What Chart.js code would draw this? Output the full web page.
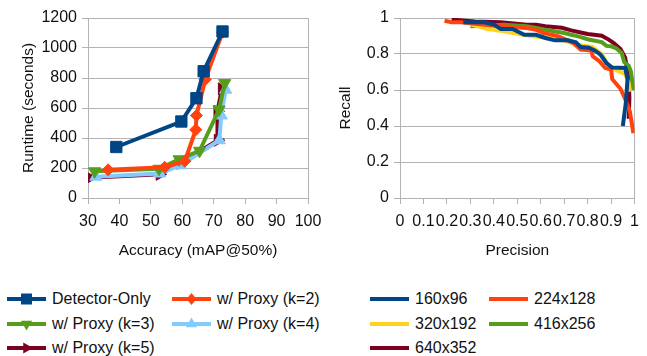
<!DOCTYPE html>
<html>
<head>
<meta charset="utf-8">
<title>Runtime vs accuracy and precision-recall</title>
<script src="https://cdn.jsdelivr.net/npm/chart.js@4.4.1/dist/chart.umd.min.js"></script>
<style>
  body { margin: 0; background: #fff; }
  #page { position: relative; width: 647px; height: 356px; overflow: hidden; font-family: 'Liberation Sans', Arial, sans-serif; color: #111; }
  #runtimeChart { position: absolute; left: 0; top: 0; }
  #prChart { position: absolute; left: 330px; top: 0; }
  .leg { position: absolute; height: 20px; line-height: 20px; font-size: 16px; white-space: nowrap; }
  .leg canvas { position: absolute; left: 0; top: 2px; }
  .leg span { position: absolute; left: 45px; top: 0; }
</style>
</head>
<body>
<div id="page">
  <canvas id="runtimeChart" width="330" height="270"></canvas>
  <canvas id="prChart" width="317" height="270"></canvas>
  <div id="runtimeLegend"></div>
  <div id="prLegend"></div>
</div>
<script>
// Left: runtime (seconds) vs accuracy (mAP@50%)
const detectorAcc = [39, 59.7, 64.5, 66.8, 72.8];
const detectorRun = [340, 510, 665, 845, 1110];
const proxy2Acc = [36.4, 54.4, 60.8, 64.3, 64.5, 67.3, 72.8];
const proxy2Run = [188, 205, 245, 455, 550, 790, 1105];
const proxy3Acc = [32.1, 52.6, 59, 65.5, 71.7, 73.5];
const proxy3Run = [178, 195, 258, 315, 590, 766];
const proxy4Acc = [32.5, 52.8, 59.4, 71.8, 72.4, 73.8];
const proxy4Run = [142, 163, 218, 385, 550, 722];
const proxy5Acc = [30.5, 52.8, 59.4, 71.3, 71.2, 72.6];
const proxy5Run = [135, 158, 232, 385, 578, 728];

// Right: recall vs precision per input resolution
const prec160 = [0.27, 0.36, 0.40, 0.43, 0.48, 0.53, 0.58, 0.62, 0.66, 0.715, 0.75, 0.77, 0.805, 0.83, 0.855, 0.88, 0.905, 0.96, 0.97, 0.963, 0.95];
const rec160 = [0.976, 0.976, 0.963, 0.939, 0.939, 0.907, 0.907, 0.889, 0.876, 0.876, 0.865, 0.839, 0.835, 0.82, 0.796, 0.75, 0.725, 0.722, 0.66, 0.53, 0.40];
const prec224 = [0.19, 0.22, 0.26, 0.36, 0.44, 0.54, 0.58, 0.61, 0.67, 0.735, 0.77, 0.815, 0.822, 0.85, 0.875, 0.9, 0.905, 0.94, 0.96, 0.98, 0.995];
const rec224 = [0.985, 0.976, 0.976, 0.963, 0.954, 0.944, 0.935, 0.917, 0.9, 0.865, 0.825, 0.82, 0.787, 0.76, 0.722, 0.713, 0.66, 0.607, 0.55, 0.48, 0.36];
const prec320 = [0.30, 0.37, 0.44, 0.50, 0.56, 0.62, 0.70, 0.76, 0.82, 0.86, 0.89, 0.93, 0.96, 0.975, 0.98];
const rec320 = [0.965, 0.94, 0.926, 0.913, 0.9, 0.89, 0.875, 0.85, 0.84, 0.8, 0.735, 0.705, 0.69, 0.64, 0.59];
const prec416 = [0.30, 0.36, 0.44, 0.54, 0.62, 0.70, 0.73, 0.76, 0.80, 0.86, 0.88, 0.90, 0.92, 0.945, 0.956, 0.975, 0.985, 0.995];
const rec416 = [0.954, 0.957, 0.963, 0.954, 0.935, 0.917, 0.907, 0.898, 0.882, 0.866, 0.845, 0.843, 0.833, 0.806, 0.755, 0.735, 0.70, 0.60];
const prec640 = [0.22, 0.32, 0.43, 0.54, 0.58, 0.62, 0.69, 0.73, 0.78, 0.80, 0.86, 0.89, 0.91, 0.94, 0.96, 0.97, 0.975, 0.978, 0.975];
const rec640 = [0.991, 0.981, 0.976, 0.963, 0.962, 0.954, 0.946, 0.931, 0.917, 0.911, 0.902, 0.88, 0.862, 0.828, 0.78, 0.7, 0.65, 0.556, 0.44];

const toPoints = (xs, ys) => xs.map((x, i) => ({ x: x, y: ys[i] }));
// plain numbers: no thousands separator, no trailing ".0"
const plainTick = v => String(Number(v.toFixed(2)));

Chart.defaults.font.family = "'Liberation Sans', Arial, sans-serif";
Chart.defaults.color = '#111';
const gridGray = '#b3b3b3';

const runtimeSeries = [
  { label: 'Detector-Only', xs: detectorAcc, ys: detectorRun, color: '#004586', style: 'rect', radius: 8, rot: 0 },
  { label: 'w/ Proxy (k=2)', xs: proxy2Acc, ys: proxy2Run, color: '#ff420e', style: 'rectRot', radius: 6, rot: 0 },
  { label: 'w/ Proxy (k=3)', xs: proxy3Acc, ys: proxy3Run, color: '#579d1c', style: 'triangle', radius: 7, rot: 180 },
  { label: 'w/ Proxy (k=4)', xs: proxy4Acc, ys: proxy4Run, color: '#83caff', style: 'triangle', radius: 7, rot: 0 },
  { label: 'w/ Proxy (k=5)', xs: proxy5Acc, ys: proxy5Run, color: '#7e0021', style: 'triangle', radius: 7, rot: 90 }
];

const prSeries = [
  { label: '160x96', xs: prec160, ys: rec160, color: '#004586' },
  { label: '224x128', xs: prec224, ys: rec224, color: '#ff420e' },
  { label: '320x192', xs: prec320, ys: rec320, color: '#ffd320' },
  { label: '416x256', xs: prec416, ys: rec416, color: '#579d1c' },
  { label: '640x352', xs: prec640, ys: rec640, color: '#7e0021' }
];

const runtimeChart = new Chart(document.getElementById('runtimeChart'), {
  type: 'scatter',
  data: {
    datasets: runtimeSeries.map(s => ({
      label: s.label,
      data: toPoints(s.xs, s.ys),
      showLine: true,
      borderColor: s.color,
      backgroundColor: s.color,
      borderWidth: 4,
      pointStyle: s.style,
      pointRadius: s.radius,
      pointHoverRadius: s.radius,
      pointRotation: s.rot,
      pointBorderWidth: 1
    }))
  },
  options: {
    responsive: false,
    animation: false,
    layout: { padding: { top: 18, right: 22, left: 0, bottom: 0 } },
    plugins: { legend: { display: false }, tooltip: { enabled: false } },
    scales: {
      x: {
        type: 'linear', min: 30, max: 100,
        ticks: { stepSize: 10, font: { size: 16 }, padding: 8, maxRotation: 0, autoSkip: false, callback: plainTick },
        grid: { color: c => (c.tick && c.tick.value === 100 ? gridGray : 'transparent'), tickColor: gridGray, tickLength: 6 },
        border: { color: gridGray },
        title: { display: true, text: 'Accuracy (mAP@50%)', font: { size: 15.5 }, padding: { top: 0, bottom: 10 } },
        afterFit: s => { s.height = 72; }
      },
      y: {
        min: 0, max: 1200,
        ticks: { stepSize: 200, font: { size: 16 }, padding: 5, callback: plainTick },
        grid: { color: gridGray, tickLength: 6 },
        border: { color: gridGray },
        title: { display: true, text: 'Runtime (seconds)', font: { size: 15.5 }, padding: { top: 19, bottom: 0 } },
        afterFit: s => { s.width = 88; }
      }
    }
  }
});

const prChart = new Chart(document.getElementById('prChart'), {
  type: 'scatter',
  data: {
    datasets: prSeries.map(s => ({
      label: s.label,
      data: toPoints(s.xs, s.ys),
      showLine: true,
      borderColor: s.color,
      backgroundColor: s.color,
      borderWidth: 4,
      pointRadius: 0,
      pointHoverRadius: 0,
      tension: 0
    }))
  },
  options: {
    responsive: false,
    animation: false,
    layout: { padding: { top: 18, right: 5, left: 0, bottom: 0 } },
    plugins: { legend: { display: false }, tooltip: { enabled: false } },
    scales: {
      x: {
        type: 'linear', min: 0, max: 1,
        ticks: { stepSize: 0.1, font: { size: 16 }, padding: 8, maxRotation: 0, minRotation: 0, autoSkip: false, callback: plainTick },
        grid: { color: c => (c.tick && c.tick.value === 1 ? gridGray : 'transparent'), tickColor: gridGray, tickLength: 6 },
        border: { color: gridGray },
        title: { display: true, text: 'Precision', font: { size: 15.5 }, padding: { top: 0, bottom: 10 } },
        afterFit: s => { s.height = 72; }
      },
      y: {
        min: 0, max: 1,
        ticks: { stepSize: 0.2, font: { size: 16 }, padding: 5, callback: plainTick },
        grid: { color: gridGray, tickLength: 6 },
        border: { color: gridGray },
        title: { display: true, text: 'Recall', font: { size: 15.5 }, padding: { top: 6, bottom: 0 } },
        afterFit: s => { s.width = 70; }
      }
    }
  }
});

// legend swatch: a short line, with the series marker when it has one
function drawSwatch(cv, color, style, rotation) {
  const c = cv.getContext('2d');
  c.strokeStyle = color;
  c.fillStyle = color;
  c.lineWidth = 4;
  c.beginPath();
  c.moveTo(0, 8);
  c.lineTo(39, 8);
  c.stroke();
  if (!style) return;
  c.save();
  c.translate(19.5, 8);
  c.rotate(rotation * Math.PI / 180);
  c.beginPath();
  if (style === 'rect') {
    c.rect(-5.5, -5.5, 11, 11);
  } else if (style === 'rectRot') {
    c.moveTo(0, -6); c.lineTo(5, 0); c.lineTo(0, 6); c.lineTo(-5, 0); c.closePath();
  } else {
    c.moveTo(0, -6.5); c.lineTo(5.6, 3.25); c.lineTo(-5.6, 3.25); c.closePath();
  }
  c.fill();
  c.restore();
}

function buildLegend(chart, holderId, cols, rowTops) {
  const holder = document.getElementById(holderId);
  chart.data.datasets.forEach((ds, i) => {
    const item = document.createElement('div');
    item.className = 'leg';
    item.style.left = cols[i % 2] + 'px';
    item.style.top = rowTops[Math.floor(i / 2)] + 'px';
    const cv = document.createElement('canvas');
    cv.width = 40;
    cv.height = 16;
    drawSwatch(cv, ds.borderColor, ds.pointRadius ? ds.pointStyle : null, ds.pointRotation || 0);
    const sp = document.createElement('span');
    sp.textContent = ds.label;
    item.appendChild(cv);
    item.appendChild(sp);
    holder.appendChild(item);
  });
}

buildLegend(runtimeChart, 'runtimeLegend', [7, 172], [289, 313.5, 338]);
buildLegend(prChart, 'prLegend', [370, 489], [289, 313.5, 338]);
</script>
</body>
</html>
